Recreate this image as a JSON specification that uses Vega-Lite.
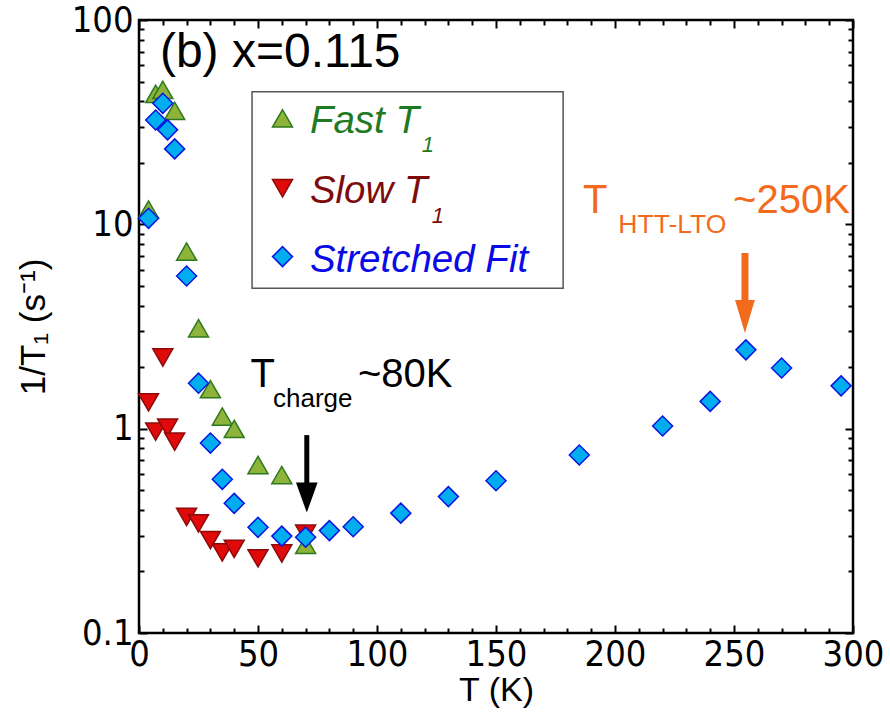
{
  "$schema": "https://vega.github.io/schema/vega-lite/v6.json",
  "width": 714,
  "height": 613,
  "autosize": {"type": "none"},
  "padding": {"left": 139, "top": 20, "right": 37, "bottom": 79},
  "background": "white",
  "config": {
    "view": {"stroke": "black", "strokeWidth": 2.5},
    "font": "Liberation Sans",
    "axis": {
      "grid": false,
      "domain": false,
      "labelFont": "Liberation Sans Narrow, Arial Narrow, DejaVu Sans Condensed, Liberation Sans",
      "titleFont": "Liberation Sans",
      "labelColor": "black",
      "titleColor": "black",
      "titleFontWeight": "normal",
      "tickColor": "black",
      "tickWidth": 2,
      "labelFontSize": 36,
      "titleFontSize": 34
    }
  },
  "datasets": {
    "pts": [
      {"T": 4, "rate": 11.8, "series": "Fast"},
      {"T": 7, "rate": 43.5, "series": "Fast"},
      {"T": 10, "rate": 45.5, "series": "Fast"},
      {"T": 15, "rate": 35.9, "series": "Fast"},
      {"T": 20, "rate": 7.35, "series": "Fast"},
      {"T": 25, "rate": 3.1, "series": "Fast"},
      {"T": 30, "rate": 1.56, "series": "Fast"},
      {"T": 35, "rate": 1.146, "series": "Fast"},
      {"T": 40, "rate": 0.997, "series": "Fast"},
      {"T": 50, "rate": 0.664, "series": "Fast"},
      {"T": 60, "rate": 0.593, "series": "Fast"},
      {"T": 70, "rate": 0.27, "series": "Fast"},
      {"T": 4, "rate": 1.346, "series": "Slow"},
      {"T": 7, "rate": 0.967, "series": "Slow"},
      {"T": 10, "rate": 2.23, "series": "Slow"},
      {"T": 12, "rate": 1.01, "series": "Slow"},
      {"T": 15, "rate": 0.864, "series": "Slow"},
      {"T": 20, "rate": 0.37, "series": "Slow"},
      {"T": 25, "rate": 0.344, "series": "Slow"},
      {"T": 30, "rate": 0.285, "series": "Slow"},
      {"T": 35, "rate": 0.248, "series": "Slow"},
      {"T": 40, "rate": 0.258, "series": "Slow"},
      {"T": 50, "rate": 0.232, "series": "Slow"},
      {"T": 60, "rate": 0.245, "series": "Slow"},
      {"T": 70, "rate": 0.306, "series": "Slow"},
      {"T": 4, "rate": 10.7, "series": "Stretched"},
      {"T": 7, "rate": 32.4, "series": "Stretched"},
      {"T": 10, "rate": 39.1, "series": "Stretched"},
      {"T": 12, "rate": 29, "series": "Stretched"},
      {"T": 15, "rate": 23.4, "series": "Stretched"},
      {"T": 20, "rate": 5.59, "series": "Stretched"},
      {"T": 25, "rate": 1.67, "series": "Stretched"},
      {"T": 30, "rate": 0.85, "series": "Stretched"},
      {"T": 35, "rate": 0.565, "series": "Stretched"},
      {"T": 40, "rate": 0.431, "series": "Stretched"},
      {"T": 50, "rate": 0.329, "series": "Stretched"},
      {"T": 60, "rate": 0.298, "series": "Stretched"},
      {"T": 70, "rate": 0.294, "series": "Stretched"},
      {"T": 80, "rate": 0.317, "series": "Stretched"},
      {"T": 90, "rate": 0.331, "series": "Stretched"},
      {"T": 110, "rate": 0.386, "series": "Stretched"},
      {"T": 130, "rate": 0.465, "series": "Stretched"},
      {"T": 150, "rate": 0.556, "series": "Stretched"},
      {"T": 185, "rate": 0.743, "series": "Stretched"},
      {"T": 220, "rate": 1.03, "series": "Stretched"},
      {"T": 240, "rate": 1.36, "series": "Stretched"},
      {"T": 255, "rate": 2.43, "series": "Stretched"},
      {"T": 270, "rate": 1.98, "series": "Stretched"},
      {"T": 295, "rate": 1.62, "series": "Stretched"}
    ],
    "legendbox": [{"x1": 47.5, "x2": 178.2, "y1": 4.87, "y2": 44.6}],
    "legendmarks": [
      {"x": 60.3, "y": 33.0, "series": "Fast"},
      {"x": 60.3, "y": 15.02, "series": "Slow"},
      {"x": 60.3, "y": 6.95, "series": "Stretched"}
    ],
    "legendtext": [
      {"x": 71.8, "y": 28.0, "text": "Fast T", "series": "Fast"},
      {"x": 71.8, "y": 12.74, "text": "Slow T", "series": "Slow"},
      {"x": 71.8, "y": 5.87, "text": "Stretched Fit", "series": "Stretched"}
    ],
    "legendsub": [
      {"x": 118.8, "y": 22.7, "text": "1", "series": "Fast"},
      {"x": 123.0, "y": 10.1, "text": "1", "series": "Slow"}
    ]
  },
  "layer": [
    {
      "data": {"name": "legendbox"},
      "mark": {"type": "rect", "fill": "white", "stroke": "#555555", "strokeWidth": 1.5},
      "encoding": {
        "x": {"field": "x1", "type": "quantitative", "scale": {"domain": [0, 300], "nice": false, "zero": false},
              "axis": {"orient": "top", "values": [0, 50, 100, 150, 200, 250, 300], "labels": false, "tickSize": -8, "title": null}},
        "x2": {"field": "x2"},
        "y": {"field": "y1", "type": "quantitative", "scale": {"type": "log", "domain": [0.1, 100], "nice": false},
              "axis": {"orient": "right", "values": [0.1, 1, 10, 100], "labels": false, "tickSize": -8, "title": null}},
        "y2": {"field": "y2"}
      }
    },
    {
      "data": {"name": "pts"},
      "transform": [{"filter": "datum.series === 'Fast'"}],
      "mark": {"type": "point", "shape": "triangle-up", "filled": true, "size": 400, "fill": "#8DB33B", "stroke": "#2F7A1E", "strokeWidth": 1.5, "opacity": 1},
      "encoding": {
        "x": {"field": "T", "type": "quantitative", "scale": {"domain": [0, 300], "nice": false, "zero": false},
              "axis": {"orient": "bottom", "values": [0, 50, 100, 150, 200, 250, 300], "ticks": false, "labelPadding": 4, "labelFlush": false, "labelOverlap": false, "title": "T (K)", "titlePadding": 1}},
        "y": {"field": "rate", "type": "quantitative", "scale": {"type": "log", "domain": [0.1, 100], "nice": false},
              "axis": {"orient": "left", "values": [0.1, 1, 10, 100], "format": "~g", "ticks": false, "labelPadding": 6, "labelFlush": false, "labelOverlap": false, "title": "1/T₁ (s⁻¹)", "titleFontSize": 35, "titlePadding": 20}}
      }
    },
    {
      "data": {"name": "pts"},
      "transform": [{"filter": "datum.series === 'Slow'"}],
      "mark": {"type": "point", "shape": "triangle-down", "filled": true, "size": 400, "fill": "#E00A0A", "stroke": "#8E0A0A", "strokeWidth": 1.5, "opacity": 1},
      "encoding": {
        "x": {"field": "T", "type": "quantitative", "scale": {"domain": [0, 300], "nice": false, "zero": false},
              "axis": {"orient": "bottom", "values": [0, 50, 100, 150, 200, 250, 300], "labels": false, "tickSize": -8, "title": null}},
        "y": {"field": "rate", "type": "quantitative", "scale": {"type": "log", "domain": [0.1, 100], "nice": false},
              "axis": {"orient": "left", "values": [0.1, 1, 10, 100], "labels": false, "tickSize": -8, "title": null}}
      }
    },
    {
      "data": {"name": "pts"},
      "transform": [{"filter": "datum.series === 'Stretched'"}],
      "mark": {"type": "point", "shape": "diamond", "filled": true, "size": 400, "fill": "#00AEEF", "stroke": "#0A14E0", "strokeWidth": 1.5, "opacity": 1},
      "encoding": {
        "x": {"field": "T", "type": "quantitative", "scale": {"domain": [0, 300], "nice": false, "zero": false},
              "axis": {"orient": "bottom", "values": [10, 20, 30, 40, 60, 70, 80, 90, 110, 120, 130, 140, 160, 170, 180, 190, 210, 220, 230, 240, 260, 270, 280, 290], "labels": false, "tickSize": -5, "title": null}},
        "y": {"field": "rate", "type": "quantitative", "scale": {"type": "log", "domain": [0.1, 100], "nice": false},
              "axis": {"orient": "left", "values": [0.2, 0.3, 0.4, 0.5, 0.6, 0.7, 0.8, 0.9, 2, 3, 4, 5, 6, 7, 8, 9, 20, 30, 40, 50, 60, 70, 80, 90], "labels": false, "tickSize": -5, "title": null}}
      }
    },
    {
      "data": {"name": "legendmarks"},
      "transform": [{"filter": "datum.series === 'Fast'"}],
      "mark": {"type": "point", "shape": "triangle-up", "filled": true, "size": 400, "fill": "#8DB33B", "stroke": "#2F7A1E", "strokeWidth": 1.5, "opacity": 1},
      "encoding": {
        "x": {"field": "x", "type": "quantitative", "scale": {"domain": [0, 300], "nice": false, "zero": false},
              "axis": {"orient": "top", "values": [10, 20, 30, 40, 60, 70, 80, 90, 110, 120, 130, 140, 160, 170, 180, 190, 210, 220, 230, 240, 260, 270, 280, 290], "labels": false, "tickSize": -5, "title": null}},
        "y": {"field": "y", "type": "quantitative", "scale": {"type": "log", "domain": [0.1, 100], "nice": false},
              "axis": {"orient": "right", "values": [0.2, 0.3, 0.4, 0.5, 0.6, 0.7, 0.8, 0.9, 2, 3, 4, 5, 6, 7, 8, 9, 20, 30, 40, 50, 60, 70, 80, 90], "labels": false, "tickSize": -5, "title": null}}
      }
    },
    {
      "data": {"name": "legendmarks"},
      "transform": [{"filter": "datum.series === 'Slow'"}],
      "mark": {"type": "point", "shape": "triangle-down", "filled": true, "size": 400, "fill": "#E00A0A", "stroke": "#8E0A0A", "strokeWidth": 1.5, "opacity": 1},
      "encoding": {
        "x": {"field": "x", "type": "quantitative", "scale": {"domain": [0, 300], "nice": false, "zero": false}, "axis": null},
        "y": {"field": "y", "type": "quantitative", "scale": {"type": "log", "domain": [0.1, 100], "nice": false}, "axis": null}
      }
    },
    {
      "data": {"name": "legendmarks"},
      "transform": [{"filter": "datum.series === 'Stretched'"}],
      "mark": {"type": "point", "shape": "diamond", "filled": true, "size": 400, "fill": "#00AEEF", "stroke": "#0A14E0", "strokeWidth": 1.5, "opacity": 1},
      "encoding": {
        "x": {"field": "x", "type": "quantitative", "scale": {"domain": [0, 300], "nice": false, "zero": false}, "axis": null},
        "y": {"field": "y", "type": "quantitative", "scale": {"type": "log", "domain": [0.1, 100], "nice": false}, "axis": null}
      }
    },
    {
      "data": {"name": "legendtext"},
      "mark": {"type": "text", "align": "left", "baseline": "alphabetic", "fontSize": 38.5, "fontStyle": "italic", "font": "Liberation Sans"},
      "encoding": {
        "x": {"field": "x", "type": "quantitative", "scale": {"domain": [0, 300], "nice": false, "zero": false}, "axis": null},
        "y": {"field": "y", "type": "quantitative", "scale": {"type": "log", "domain": [0.1, 100], "nice": false}, "axis": null},
        "text": {"field": "text"},
        "color": {"field": "series", "type": "nominal", "scale": {"domain": ["Fast", "Slow", "Stretched"], "range": ["#1F7A22", "#7E0B0B", "#0A0AE6"]}, "legend": null}
      }
    },
    {
      "data": {"name": "legendsub"},
      "mark": {"type": "text", "align": "left", "baseline": "alphabetic", "fontSize": 22, "fontStyle": "italic", "font": "Liberation Sans"},
      "encoding": {
        "x": {"field": "x", "type": "quantitative", "scale": {"domain": [0, 300], "nice": false, "zero": false}, "axis": null},
        "y": {"field": "y", "type": "quantitative", "scale": {"type": "log", "domain": [0.1, 100], "nice": false}, "axis": null},
        "text": {"field": "text"},
        "color": {"field": "series", "type": "nominal", "scale": {"domain": ["Fast", "Slow", "Stretched"], "range": ["#1F7A22", "#7E0B0B", "#0A0AE6"]}, "legend": null}
      }
    },
    {
      "data": {"values": [{"x": 8.8, "y": 59.2, "text": "(b) x=0.115"}]},
      "mark": {"type": "text", "align": "left", "baseline": "alphabetic", "fontSize": 48, "color": "black", "font": "Liberation Sans"},
      "encoding": {
        "x": {"field": "x", "type": "quantitative", "scale": {"domain": [0, 300], "nice": false, "zero": false}, "axis": null},
        "y": {"field": "y", "type": "quantitative", "scale": {"type": "log", "domain": [0.1, 100], "nice": false}, "axis": null},
        "text": {"field": "text"}
      }
    },
    {
      "data": {"values": [{"x": 46.9, "y": 1.606, "text": "T"}, {"x": 92.0, "y": 1.606, "text": "~80K"}]},
      "mark": {"type": "text", "align": "left", "baseline": "alphabetic", "fontSize": 40, "color": "black", "font": "Liberation Sans"},
      "encoding": {
        "x": {"field": "x", "type": "quantitative", "scale": {"domain": [0, 300], "nice": false, "zero": false}, "axis": null},
        "y": {"field": "y", "type": "quantitative", "scale": {"type": "log", "domain": [0.1, 100], "nice": false}, "axis": null},
        "text": {"field": "text"}
      }
    },
    {
      "data": {"values": [{"x": 56.3, "y": 1.281, "text": "charge"}]},
      "mark": {"type": "text", "align": "left", "baseline": "alphabetic", "fontSize": 26, "color": "black", "font": "Liberation Sans"},
      "encoding": {
        "x": {"field": "x", "type": "quantitative", "scale": {"domain": [0, 300], "nice": false, "zero": false}, "axis": null},
        "y": {"field": "y", "type": "quantitative", "scale": {"type": "log", "domain": [0.1, 100], "nice": false}, "axis": null},
        "text": {"field": "text"}
      }
    },
    {
      "data": {"values": [{"x": 186.6, "y": 11.38, "text": "T"}, {"x": 249.6, "y": 11.38, "text": "~250K"}]},
      "mark": {"type": "text", "align": "left", "baseline": "alphabetic", "fontSize": 40, "color": "#F26B1C", "font": "Liberation Sans"},
      "encoding": {
        "x": {"field": "x", "type": "quantitative", "scale": {"domain": [0, 300], "nice": false, "zero": false}, "axis": null},
        "y": {"field": "y", "type": "quantitative", "scale": {"type": "log", "domain": [0.1, 100], "nice": false}, "axis": null},
        "text": {"field": "text"}
      }
    },
    {
      "data": {"values": [{"x": 201.4, "y": 9.08, "text": "HTT-LTO"}]},
      "mark": {"type": "text", "align": "left", "baseline": "alphabetic", "fontSize": 26.5, "color": "#F26B1C", "font": "Liberation Sans"},
      "encoding": {
        "x": {"field": "x", "type": "quantitative", "scale": {"domain": [0, 300], "nice": false, "zero": false}, "axis": null},
        "y": {"field": "y", "type": "quantitative", "scale": {"type": "log", "domain": [0.1, 100], "nice": false}, "axis": null},
        "text": {"field": "text"}
      }
    },
    {
      "data": {"values": [{"x": 70.5, "top": 0.93, "bottom": 0.48}]},
      "mark": {"type": "rule", "color": "black", "strokeWidth": 5},
      "encoding": {
        "x": {"field": "x", "type": "quantitative", "scale": {"domain": [0, 300], "nice": false, "zero": false}, "axis": null},
        "y": {"field": "top", "type": "quantitative", "scale": {"type": "log", "domain": [0.1, 100], "nice": false}, "axis": null},
        "y2": {"field": "bottom"}
      }
    },
    {
      "data": {"values": [{"x": 70.5, "y": 0.46}]},
      "mark": {"type": "point", "shape": "M-0.72,-1L0.72,-1L0,1Z", "filled": true, "size": 900, "fill": "black", "strokeWidth": 0, "opacity": 1},
      "encoding": {
        "x": {"field": "x", "type": "quantitative", "scale": {"domain": [0, 300], "nice": false, "zero": false}, "axis": null},
        "y": {"field": "y", "type": "quantitative", "scale": {"type": "log", "domain": [0.1, 100], "nice": false}, "axis": null}
      }
    },
    {
      "data": {"values": [{"x": 254.6, "top": 7.24, "bottom": 3.7}]},
      "mark": {"type": "rule", "color": "#F26B1C", "strokeWidth": 7},
      "encoding": {
        "x": {"field": "x", "type": "quantitative", "scale": {"domain": [0, 300], "nice": false, "zero": false}, "axis": null},
        "y": {"field": "top", "type": "quantitative", "scale": {"type": "log", "domain": [0.1, 100], "nice": false}, "axis": null},
        "y2": {"field": "bottom"}
      }
    },
    {
      "data": {"values": [{"x": 254.6, "y": 3.54}]},
      "mark": {"type": "point", "shape": "M-0.6,-1L0.6,-1L0,1Z", "filled": true, "size": 1089, "fill": "#F26B1C", "strokeWidth": 0, "opacity": 1},
      "encoding": {
        "x": {"field": "x", "type": "quantitative", "scale": {"domain": [0, 300], "nice": false, "zero": false}, "axis": null},
        "y": {"field": "y", "type": "quantitative", "scale": {"type": "log", "domain": [0.1, 100], "nice": false}, "axis": null}
      }
    }
  ],
  "resolve": {"axis": {"x": "independent", "y": "independent"}}
}
